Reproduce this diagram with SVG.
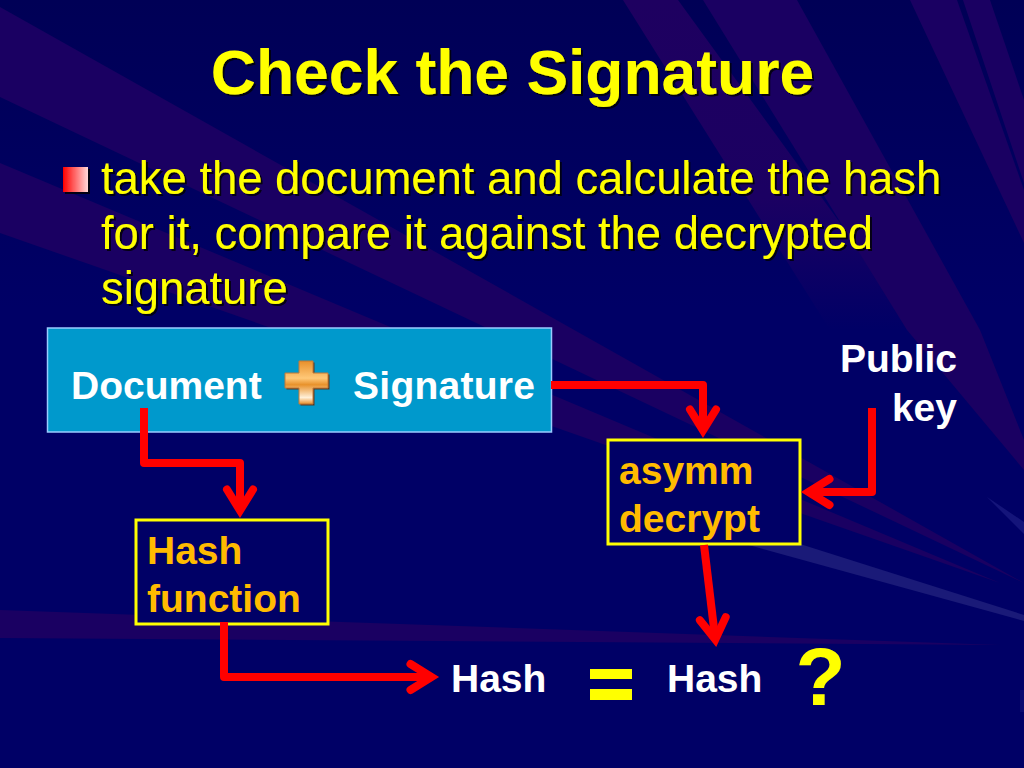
<svg xmlns="http://www.w3.org/2000/svg" width="1024" height="768" viewBox="0 0 1024 768">
<defs>
<linearGradient id="bg" x1="0" x2="0" y1="0" y2="1"><stop offset="0" stop-color="#000056"/><stop offset="0.4" stop-color="#000066"/><stop offset="1" stop-color="#000066"/></linearGradient>
<linearGradient id="fade" gradientUnits="userSpaceOnUse" x1="0" x2="0" y1="0" y2="330"><stop offset="0" stop-color="#1e0060"/><stop offset="0.6" stop-color="#1b0062"/><stop offset="1" stop-color="#000066"/></linearGradient>
<linearGradient id="bul" x1="0" x2="1" y1="0" y2="0"><stop offset="0" stop-color="#ff0000"/><stop offset="1" stop-color="#ffd8d8"/></linearGradient>
<linearGradient id="plus" x1="0" x2="0" y1="0" y2="1"><stop offset="0" stop-color="#e8902a"/><stop offset="0.4" stop-color="#ffc878"/><stop offset="0.55" stop-color="#e8922c"/><stop offset="0.85" stop-color="#fff0d8"/><stop offset="1" stop-color="#e8902a"/></linearGradient>
<filter id="sh" x="-5%" y="-5%" width="110%" height="115%"><feDropShadow dx="2" dy="2" stdDeviation="0.6" flood-color="#000000" flood-opacity="0.8"/></filter>
<marker id="ah" markerUnits="userSpaceOnUse" markerWidth="40" markerHeight="40" viewBox="0 0 40 32" refX="20.500" refY="16" orient="auto" overflow="visible"><path d="M2 3 L23 16 L2 29" fill="none" stroke="#ff0000" stroke-width="8" stroke-linecap="round" stroke-linejoin="miter"/></marker>
</defs>
<style>
.ray{fill:#1a0062}
.t{font-family:"Liberation Sans",Arial,sans-serif}
.b{font-weight:bold}
.w{fill:#fff;font-size:39px;font-weight:bold}
.o{fill:#ffbb00;font-size:39px;font-weight:bold}
.y{fill:#ffff00;font-size:45.400px}
.box{fill:#000066;stroke:#ffff00;stroke-width:3}
.c{fill:none;stroke:#ff0000;stroke-width:8;stroke-linejoin:round}
</style>
<rect width="1024" height="768" fill="url(#bg)"/>
<g id="background">
<polygon class="ray" points="0,7 1024,583 0,97"/>
<polygon class="ray" points="0,163 1000,583 0,233"/>
<polygon points="623,0 678,0 918,330 830,330" fill="url(#fade)"/>
<polygon class="ray" points="703,0 797,0 980,330 1024,440 1024,470 907,330"/>
<polygon class="ray" points="910,0 957,0 1024,190 1024,243"/>
<polygon class="ray" points="963,0 990,0 1024,100 1024,183"/>
<polygon class="ray" points="0,610 1000,645 0,638"/>
<polygon points="745,544 800,544 1024,615 1024,621" fill="#1a1a78"/>
<polygon points="987,497 1024,522 1024,534" fill="#14147a"/>
<rect x="1020" y="690" width="4" height="22" fill="#0a0a70"/>
</g>
<text class="t b" x="512.500" y="94" font-size="62.400" fill="#ffff00" text-anchor="middle" filter="url(#sh)">Check the Signature</text>
<g id="bullet" filter="url(#sh)">
<rect x="63" y="167" width="25" height="25" fill="url(#bul)"/>
<text class="t y" x="101" y="194">take the document and calculate the hash</text>
<text class="t y" x="101" y="249">for it, compare it against the decrypted</text>
<text class="t y" x="101" y="304">signature</text>
</g>
<g id="source">
<rect x="47.500" y="328" width="504" height="104" fill="#0099cc" stroke="#99ccff" stroke-width="1.500"/>
<text class="t w" x="71" y="399">Document</text>
<path d="M299 361 h14 v12 h15 v15 h-15 v16 h-14 v-16 h-14 v-15 h14 z" fill="#5a3a20" transform="translate(1.500 1.500)"/>
<path d="M299 361 h14 v12 h15 v15 h-15 v16 h-14 v-16 h-14 v-15 h14 z" fill="url(#plus)" stroke="#c07838" stroke-width="1"/>
<text class="t w" x="353" y="399" textLength="182">Signature</text>
</g>
<g id="asymm">
<rect class="box" x="608" y="440" width="192" height="104"/>
<text class="t o" x="619" y="484">asymm</text>
<text class="t o" x="619" y="532">decrypt</text>
</g>
<g id="hashfn">
<rect class="box" x="136" y="520" width="192" height="104"/>
<text class="t o" x="147" y="564">Hash</text>
<text class="t o" x="147" y="612">function</text>
</g>
<g id="pubkey">
<text class="t w" x="957" y="372" text-anchor="end">Public</text>
<text class="t w" x="957" y="421" text-anchor="end">key</text>
</g>
<g id="hash1"><text class="t w" x="451" y="692">Hash</text></g>
<g id="hash2"><text class="t w" x="667" y="692">Hash</text></g>
<g id="equals"><rect x="590" y="669" width="42" height="10" fill="#ffff00"/><rect x="590" y="689" width="42" height="11" fill="#ffff00"/></g>
<text id="question" class="t b" x="820.500" y="705" font-size="82" fill="#ffff00" text-anchor="middle">?</text>
<g id="connectors">
<path class="c" d="M144 408 V463 H240 V508" marker-end="url(#ah)"/>
<path class="c" d="M551 385 H703 V428" marker-end="url(#ah)"/>
<path class="c" d="M872 408 V492 H811" marker-end="url(#ah)"/>
<path class="c" d="M704 545 L715 637" marker-end="url(#ah)"/>
<path class="c" d="M224 622 V677 H429" marker-end="url(#ah)"/>
</g>
</svg>
